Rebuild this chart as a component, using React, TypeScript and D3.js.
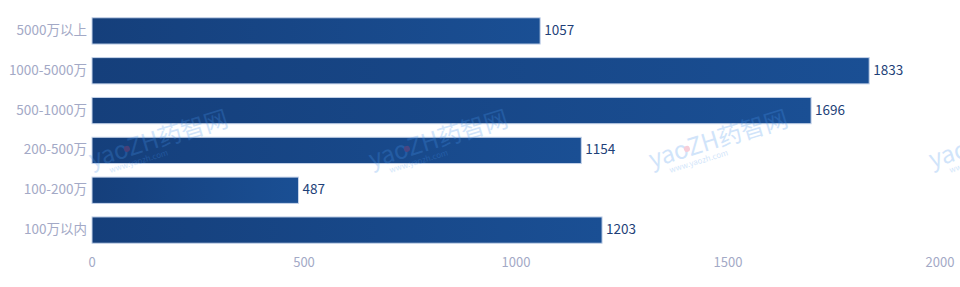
import React from "react";
import * as d3 from "d3";

const categories = ["5000万以上", "1000-5000万", "500-1000万", "200-500万", "100-200万", "100万以内"];
const values = [1057, 1833, 1696, 1154, 487, 1203];
const xTicks = [0, 500, 1000, 1500, 2000];
const watermarkX = [92, 372, 652, 932];

const W = 960;
const H = 287;

export default function App() {
  const x = d3.scaleLinear().domain([0, 2000]).range([92, 940]);
  const y = d3.scaleBand<string>().domain(categories).range([11, 250]).paddingInner(0.34).paddingOuter(0.17);
  const font = "'Noto Sans CJK SC', 'Noto Sans', sans-serif";
  return (
    <svg width={W} height={H} style={{ position: "absolute", left: 0, top: 0, display: "block" }}>
      <defs>
        <linearGradient id="barGrad" x1="0" y1="0" x2="1" y2="0">
          <stop offset="0%" stopColor="#153f7b" />
          <stop offset="100%" stopColor="#1a4f94" />
        </linearGradient>
      </defs>
      <rect width={W} height={H} fill="#fff" />
      {categories.map((c, i) => {
        const by = y(c)!;
        const bw = x(values[i]) - x(0);
        return (
          <g key={c}>
            <rect x={x(0)} y={by} width={bw} height={y.bandwidth()} fill="url(#barGrad)" stroke="#c5d3ea" strokeWidth={1} />
            <text x={87} y={by + y.bandwidth() / 2} dy="0.3em" textAnchor="end" fontFamily={font} fontSize={13.5} fill="#a3a9c6">
              {c}
            </text>
            <text x={x(values[i]) + 4} y={by + y.bandwidth() / 2} dy="0.3em" textAnchor="start" fontFamily={font} fontSize={13.5} fill="#1e3f78">
              {values[i]}
            </text>
          </g>
        );
      })}
      {xTicks.map((t) => (
        <text key={t} x={x(t)} y={262} dy="0.35em" textAnchor="middle" fontFamily={font} fontSize={13} fill="#a3a9c6">
          {t}
        </text>
      ))}
      {watermarkX.map((wx, i) => (
        <g key={i} transform={`translate(${wx},${168}) rotate(-17)`} opacity={0.25}>
          <text x={0} y={0} fontFamily={font} fontSize={24} fill="#4a97ee">
            yaoZH药智网
          </text>
          <text x={16} y={10} fontFamily={font} fontSize={8} fill="#4a97ee">
            www.yaozh.com
          </text>
          <circle cx={39} cy={-8} r={3} fill="#e0406a" />
        </g>
      ))}
    </svg>
  );
}
